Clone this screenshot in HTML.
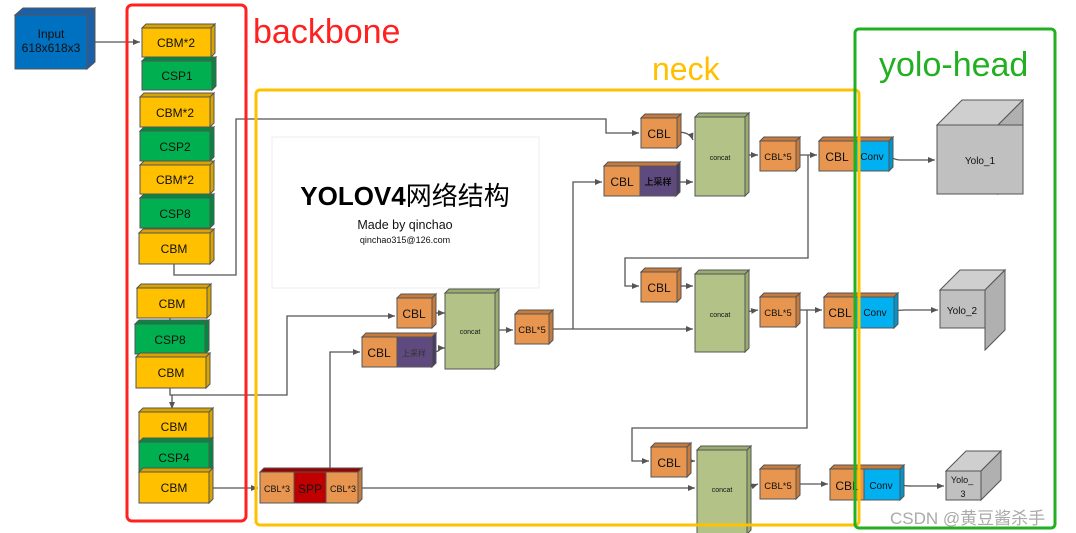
<!DOCTYPE html>
<html><head><meta charset="utf-8"><style>
html,body{margin:0;padding:0;background:#fff;width:1076px;height:533px;overflow:hidden}
svg{display:block}
text{font-family:"Liberation Sans","Noto Sans CJK SC",sans-serif}
</style></head><body>
<svg width="1076" height="533" viewBox="0 0 1076 533" xmlns="http://www.w3.org/2000/svg">
<defs>
<marker id="a" markerWidth="8" markerHeight="8" refX="7" refY="4" orient="auto" markerUnits="userSpaceOnUse"><path d="M0,1 L7,4 L0,7 z" fill="#555"/></marker>
</defs>

<!-- title panel -->
<rect x="272" y="137" width="267" height="151" fill="#fff" stroke="#eee" stroke-width="1"/>
<text x="405" y="205" font-size="26" font-weight="bold" text-anchor="middle" fill="#000">YOLOV4<tspan font-weight="normal" font-family="Noto Sans CJK SC, sans-serif">网络结构</tspan></text>
<text x="405" y="229" font-size="12.5" text-anchor="middle" fill="#111">Made by qinchao</text>
<text x="405" y="243" font-size="9" text-anchor="middle" fill="#111">qinchao315@126.com</text>

<!-- connectors -->
<g stroke="#555" stroke-width="1.3" fill="none">
<path d="M87,42 H140" marker-end="url(#a)"/>
<path d="M174,264 V275 H236 V119 H606 V133 H639" marker-end="url(#a)"/>
<path d="M170,318 V395 H287 V316 H395" marker-end="url(#a)"/>
<path d="M172,395 V409" marker-end="url(#a)"/>
<path d="M209,488 H258" marker-end="url(#a)"/>
<path d="M330,471 V352 H360" marker-end="url(#a)"/>
<path d="M358,488 H695" marker-end="url(#a)"/>
<path d="M432,313 H445" marker-end="url(#a)"/>
<path d="M432,352 Q440,352 440,348 H445" marker-end="url(#a)"/>
<path d="M495,330 H513" marker-end="url(#a)"/>
<path d="M549,329 H693" marker-end="url(#a)"/>
<path d="M573,329 V182 H602" marker-end="url(#a)"/>
<path d="M677,132 Q690,132 693,140" marker-end="url(#a)"/>
<path d="M677,182 H693" marker-end="url(#a)"/>
<path d="M745,155 H758" marker-end="url(#a)"/>
<path d="M797,155 H817" marker-end="url(#a)"/>
<path d="M808,155 V258 H625 V286 H639" marker-end="url(#a)"/>
<path d="M677,286 H693" marker-end="url(#a)"/>
<path d="M745,312 L758,310" marker-end="url(#a)"/>
<path d="M797,310 H822" marker-end="url(#a)"/>
<path d="M807,310 V428 H632 V461 H649" marker-end="url(#a)"/>
<path d="M687,461 H695" marker-end="url(#a)"/>
<path d="M747,488 L758,484" marker-end="url(#a)"/>
<path d="M797,484 H828" marker-end="url(#a)"/>
<path d="M889,156 Q895,160 900,160 H935" marker-end="url(#a)"/>
<path d="M894,311 Q900,310 905,310 H938" marker-end="url(#a)"/>
<path d="M900,485 Q905,486 912,486 H944" marker-end="url(#a)"/>
</g>

<!-- 3D block helper style -->
<g stroke="#555" stroke-width="1">
<!-- Input -->
<g transform="translate(15,15)" fill="#0070C0"><polygon points="0,0 8,-7 80,-7 72,0" fill="#1a5fa8"/><polygon points="72,0 80,-7 80,47 72,54" fill="#1a5fa8"/><rect width="72" height="54"/></g>

<!-- backbone blocks -->
<g transform="translate(142,28)"><polygon points="0,0 4,-4 73,-4 69,0" fill="#d9a400"/><polygon points="69,0 73,-4 73,25 69,29" fill="#d9a400"/><rect width="69" height="29" fill="#FFC000"/></g>
<g transform="translate(142,61)"><polygon points="0,0 4,-4 74,-4 70,0" fill="#008a40"/><polygon points="70,0 74,-4 74,25 70,29" fill="#008a40"/><rect width="70" height="29" fill="#00B050"/></g>
<g transform="translate(140,97)"><polygon points="0,0 4,-4 74,-4 70,0" fill="#d9a400"/><polygon points="70,0 74,-4 74,26 70,30" fill="#d9a400"/><rect width="70" height="30" fill="#FFC000"/></g>
<g transform="translate(140,131)"><polygon points="0,0 4,-4 74,-4 70,0" fill="#008a40"/><polygon points="70,0 74,-4 74,26 70,30" fill="#008a40"/><rect width="70" height="30" fill="#00B050"/></g>
<g transform="translate(140,165)"><polygon points="0,0 4,-4 74,-4 70,0" fill="#d9a400"/><polygon points="70,0 74,-4 74,25 70,29" fill="#d9a400"/><rect width="70" height="29" fill="#FFC000"/></g>
<g transform="translate(140,198)"><polygon points="0,0 4,-4 74,-4 70,0" fill="#008a40"/><polygon points="70,0 74,-4 74,26 70,30" fill="#008a40"/><rect width="70" height="30" fill="#00B050"/></g>
<g transform="translate(139,233)"><polygon points="0,0 4,-4 75,-4 71,0" fill="#d9a400"/><polygon points="71,0 75,-4 75,27 71,31" fill="#d9a400"/><rect width="71" height="31" fill="#FFC000"/></g>
<g transform="translate(137,288)"><polygon points="0,0 4,-4 74,-4 70,0" fill="#d9a400"/><polygon points="70,0 74,-4 74,26 70,30" fill="#d9a400"/><rect width="70" height="30" fill="#FFC000"/></g>
<g transform="translate(135,324)"><polygon points="0,0 4,-4 74,-4 70,0" fill="#008a40"/><polygon points="70,0 74,-4 74,26 70,30" fill="#008a40"/><rect width="70" height="30" fill="#00B050"/></g>
<g transform="translate(136,357)"><polygon points="0,0 4,-4 74,-4 70,0" fill="#d9a400"/><polygon points="70,0 74,-4 74,27 70,31" fill="#d9a400"/><rect width="70" height="31" fill="#FFC000"/></g>
<g transform="translate(139,412)"><polygon points="0,0 4,-4 74,-4 70,0" fill="#d9a400"/><polygon points="70,0 74,-4 74,25 70,29" fill="#d9a400"/><rect width="70" height="29" fill="#FFC000"/></g>
<g transform="translate(139,442)"><polygon points="0,0 4,-4 74,-4 70,0" fill="#008a40"/><polygon points="70,0 74,-4 74,26 70,30" fill="#008a40"/><rect width="70" height="30" fill="#00B050"/></g>
<g transform="translate(139,472)"><polygon points="0,0 4,-4 74,-4 70,0" fill="#d9a400"/><polygon points="70,0 74,-4 74,27 70,31" fill="#d9a400"/><rect width="70" height="31" fill="#FFC000"/></g>

<!-- neck left -->
<g transform="translate(397,298)"><polygon points="0,0 4,-4 39,-4 35,0" fill="#c77a3a"/><polygon points="35,0 39,-4 39,26 35,30" fill="#c77a3a"/><rect width="35" height="30" fill="#E8964F"/></g>
<g transform="translate(362,337)"><polygon points="0,0 4,-4 74,-4 70,0" fill="#c77a3a"/><polygon points="70,0 74,-4 74,26 70,30" fill="#4a3a66"/><rect width="35" height="30" fill="#E8964F"/><rect x="35" width="35" height="30" fill="#5E4A7E"/></g>
<g transform="translate(445,293)"><polygon points="0,0 4,-4 54,-4 50,0" fill="#9aad70"/><polygon points="50,0 54,-4 54,72 50,76" fill="#9aad70"/><rect width="50" height="76" fill="#B3C388"/></g>
<g transform="translate(515,314)"><polygon points="0,0 4,-4 38,-4 34,0" fill="#c77a3a"/><polygon points="34,0 38,-4 38,26 34,30" fill="#c77a3a"/><rect width="34" height="30" fill="#E8964F"/></g>
<g transform="translate(260,472)"><polygon points="0,0 4,-4 102,-4 98,0" fill="#9a0000"/><polygon points="98,0 102,-4 102,27 98,31" fill="#c77a3a"/><rect width="34" height="31" fill="#E8964F"/><rect x="34" width="32" height="31" fill="#C00000"/><rect x="66" width="32" height="31" fill="#E8964F"/></g>

<!-- neck top -->
<g transform="translate(641,118)"><polygon points="0,0 4,-4 40,-4 36,0" fill="#c77a3a"/><polygon points="36,0 40,-4 40,26 36,30" fill="#c77a3a"/><rect width="36" height="30" fill="#E8964F"/></g>
<g transform="translate(604,166)"><polygon points="0,0 4,-4 76,-4 72,0" fill="#c77a3a"/><polygon points="72,0 76,-4 76,26 72,30" fill="#4a3a66"/><rect width="36" height="30" fill="#E8964F"/><rect x="36" width="36" height="30" fill="#5E4A7E"/></g>
<g transform="translate(695,117)"><polygon points="0,0 4,-4 54,-4 50,0" fill="#9aad70"/><polygon points="50,0 54,-4 54,75 50,79" fill="#9aad70"/><rect width="50" height="79" fill="#B3C388"/></g>
<g transform="translate(760,141)"><polygon points="0,0 4,-4 40,-4 36,0" fill="#c77a3a"/><polygon points="36,0 40,-4 40,26 36,30" fill="#c77a3a"/><rect width="36" height="30" fill="#E8964F"/></g>
<g transform="translate(819,141)"><polygon points="0,0 4,-4 74,-4 70,0" fill="#c77a3a"/><polygon points="70,0 74,-4 74,26 70,30" fill="#0095cc"/><rect width="36" height="30" fill="#E8964F"/><rect x="36" width="34" height="30" fill="#00B0F0"/></g>
<g transform="translate(937,125)"><polygon points="0,0 25,-25 86,-25 61,0" fill="#cfcfcf"/><polygon points="61,0 86,-25 86,44 61,69" fill="#b0b0b0"/><rect width="86" height="69" fill="#C0C0C0"/></g>

<!-- neck mid -->
<g transform="translate(641,272)"><polygon points="0,0 4,-4 40,-4 36,0" fill="#c77a3a"/><polygon points="36,0 40,-4 40,26 36,30" fill="#c77a3a"/><rect width="36" height="30" fill="#E8964F"/></g>
<g transform="translate(695,274)"><polygon points="0,0 4,-4 54,-4 50,0" fill="#9aad70"/><polygon points="50,0 54,-4 54,74 50,78" fill="#9aad70"/><rect width="50" height="78" fill="#B3C388"/></g>
<g transform="translate(760,297)"><polygon points="0,0 4,-4 40,-4 36,0" fill="#c77a3a"/><polygon points="36,0 40,-4 40,26 36,30" fill="#c77a3a"/><rect width="36" height="30" fill="#E8964F"/></g>
<g transform="translate(824,297)"><polygon points="0,0 4,-4 74,-4 70,0" fill="#c77a3a"/><polygon points="70,0 74,-4 74,27 70,31" fill="#0095cc"/><rect width="32" height="31" fill="#E8964F"/><rect x="32" width="38" height="31" fill="#00B0F0"/></g>
<g transform="translate(940,290)"><polygon points="0,0 20,-20 65,-20 45,0" fill="#cfcfcf"/><polygon points="45,0 65,-20 65,40 45,60" fill="#b0b0b0"/><rect width="45" height="38" fill="#C0C0C0"/></g>

<!-- neck bottom -->
<g transform="translate(651,447)"><polygon points="0,0 4,-4 40,-4 36,0" fill="#c77a3a"/><polygon points="36,0 40,-4 40,26 36,30" fill="#c77a3a"/><rect width="36" height="30" fill="#E8964F"/></g>
<g transform="translate(697,450)"><polygon points="0,0 4,-4 54,-4 50,0" fill="#9aad70"/><polygon points="50,0 54,-4 54,80 50,84" fill="#9aad70"/><rect width="50" height="84" fill="#B3C388"/></g>
<g transform="translate(760,469)"><polygon points="0,0 4,-4 40,-4 36,0" fill="#c77a3a"/><polygon points="36,0 40,-4 40,26 36,30" fill="#c77a3a"/><rect width="36" height="30" fill="#E8964F"/></g>
<g transform="translate(830,469)"><polygon points="0,0 4,-4 74,-4 70,0" fill="#c77a3a"/><polygon points="70,0 74,-4 74,27 70,31" fill="#0095cc"/><rect width="34" height="31" fill="#E8964F"/><rect x="34" width="36" height="31" fill="#00B0F0"/></g>
<g transform="translate(946,471)"><polygon points="0,0 20,-20 55,-20 35,0" fill="#cfcfcf"/><polygon points="35,0 55,-20 55,9 35,29" fill="#b0b0b0"/><rect width="35" height="29" fill="#C0C0C0"/></g>
</g>

<!-- labels -->
<g fill="#111" text-anchor="middle" font-size="12">
<text x="51" y="38">Input</text><text x="51" y="52">618x618x3</text>
<text x="176" y="47">CBM*2</text>
<text x="177" y="80">CSP1</text>
<text x="175" y="117">CBM*2</text>
<text x="175" y="151">CSP2</text>
<text x="175" y="184">CBM*2</text>
<text x="175" y="218">CSP8</text>
<text x="174" y="253">CBM</text>
<text x="172" y="308">CBM</text>
<text x="170" y="344">CSP8</text>
<text x="171" y="377">CBM</text>
<text x="174" y="431">CBM</text>
<text x="174" y="462">CSP4</text>
<text x="174" y="492">CBM</text>
<text x="414" y="318">CBL</text>
<text x="379" y="357">CBL</text>
<text x="414" y="356" font-size="8" fill="#333">上采样</text>
<text x="470" y="334" font-size="7">concat</text>
<text x="532" y="333" font-size="9.5">CBL*5</text>
<text x="277" y="492" font-size="9">CBL*3</text>
<text x="310" y="493" font-size="12">SPP</text>
<text x="343" y="492" font-size="9">CBL*3</text>
<text x="659" y="138">CBL</text>
<text x="622" y="186">CBL</text>
<text x="658" y="185" font-size="9" font-weight="bold">上采样</text>
<text x="720" y="160" font-size="7">concat</text>
<text x="778" y="160" font-size="9.5">CBL*5</text>
<text x="837" y="161">CBL</text>
<text x="872" y="160" font-size="10">Conv</text>
<text x="980" y="164" font-size="10">Yolo_1</text>
<text x="659" y="292">CBL</text>
<text x="720" y="317" font-size="7">concat</text>
<text x="778" y="316" font-size="9.5">CBL*5</text>
<text x="840" y="317">CBL</text>
<text x="875" y="316" font-size="10">Conv</text>
<text x="962" y="314" font-size="10">Yolo_2</text>
<text x="669" y="467">CBL</text>
<text x="722" y="492" font-size="7">concat</text>
<text x="778" y="489" font-size="9.5">CBL*5</text>
<text x="847" y="490">CBL</text>
<text x="881" y="489" font-size="10">Conv</text>
<text x="962" y="483" font-size="9">Yolo_</text>
<text x="963" y="497" font-size="9">3</text>
</g>

<!-- outline frames -->
<rect x="127" y="5" width="119" height="516" rx="5" fill="none" stroke="#FF2020" stroke-width="3"/>
<rect x="256" y="90" width="603" height="435" rx="4" fill="none" stroke="#FFC000" stroke-width="3"/>
<rect x="855" y="29" width="200" height="499" rx="4" fill="none" stroke="#22B022" stroke-width="3"/>
<text x="253" y="43" font-size="34" fill="#FF2020">backbone</text>
<text x="652" y="80" font-size="32" fill="#FFC000">neck</text>
<text x="879" y="76" font-size="34" fill="#22B022">yolo-head</text>
<text x="890" y="524" font-size="17" fill="#aaa">CSDN @黄豆酱杀手</text>
</svg>
</body></html>
